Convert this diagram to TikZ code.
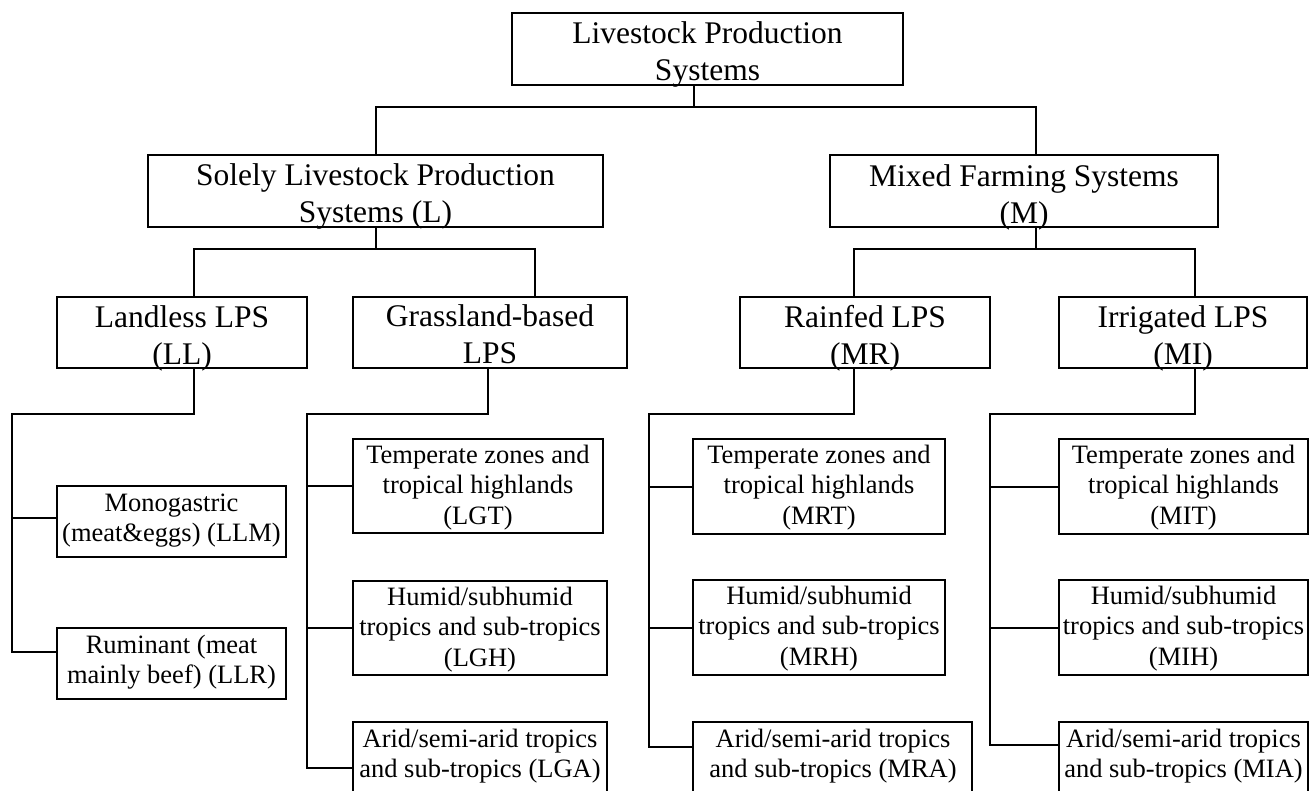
\documentclass[tikz,border=0pt]{standalone}
\usepackage{fontspec}
\setmainfont{Liberation Serif}
\usetikzlibrary{fit}

\tikzset{
  box/.style={draw, line width=1.8pt, inner sep=0pt, fill=none},
  wire/.style={line width=1.8pt, line cap=rect},
  bigtxt/.style={inner sep=0pt, anchor=north, align=center,
    font=\fontsize{31.5}{37.5}\selectfont},
  smalltxt/.style={inner sep=0pt, anchor=north, align=center,
    font=\fontsize{26.5}{30.5}\selectfont},
}
% first-line strut: the first baseline sits this far below the node's north
\newcommand\bigstrut{\rule{0pt}{26pt}}
\newcommand\smallstrut{\rule{0pt}{22pt}}

\begin{document}
\begin{tikzpicture}[x=1pt, y=-1pt]
\useasboundingbox (0,0) rectangle (1309,790);
\clip (0,0) rectangle (1309,790);

% ---------- level 1 ----------
\node[box, fit={(512,13) (903,85)}] (lps) {};
\node[bigtxt] (lps-t) at (707.5,17) {\bigstrut Livestock Production\\Systems};

% ---------- level 2 ----------
\node[box, fit={(148,155) (603,227)}] (sl) {};
\node[bigtxt] (sl-t) at (375.5,159) {\bigstrut Solely Livestock Production\\Systems (L)};
\node[box, fit={(830,155) (1218,227)}] (mf) {};
\node[bigtxt] (mf-t) at (1024,160) {\bigstrut Mixed Farming Systems\\(M)};

% ---------- level 3 ----------
\node[box, fit={(57,297) (307,368)}] (ll) {};
\node[bigtxt] (ll-t) at (182,301) {\bigstrut Landless LPS\\(LL)};
\node[box, fit={(353,297) (627,368)}] (gb) {};
\node[bigtxt] (gb-t) at (490,300) {\bigstrut Grassland-based\\LPS};
\node[box, fit={(740,297) (990,368)}] (mr) {};
\node[bigtxt] (mr-t) at (865,301) {\bigstrut Rainfed LPS\\(MR)};
\node[box, fit={(1059,297) (1307,368)}] (mi) {};
\node[bigtxt] (mi-t) at (1183,301) {\bigstrut Irrigated LPS\\(MI)};

% ---------- level 4: landless ----------
\node[box, fit={(57,486) (286,557)}] (llm) {};
\node[smalltxt] (llm-t) at (171.5,489) {\smallstrut Monogastric\\(meat\&eggs) (LLM)};
\node[box, fit={(57,628) (286,699)}] (llr) {};
\node[smalltxt] (llr-t) at (171.5,631) {\smallstrut Ruminant (meat\\mainly beef) (LLR)};

% ---------- level 4: grassland-based ----------
\node[box, fit={(353,439) (603,533)}] (lgt) {};
\node[smalltxt] (lgt-t) at (478,441) {\smallstrut Temperate zones and\\tropical highlands\\(LGT)};
\node[box, fit={(353,581) (607,675)}] (lgh) {};
\node[smalltxt] (lgh-t) at (480,583) {\smallstrut Humid/subhumid\\tropics and sub-tropics\\(LGH)};
\node[box, fit={(353,722) (607,820)}] (lga) {};
\node[smalltxt] (lga-t) at (480,725) {\smallstrut Arid/semi-arid tropics\\and sub-tropics (LGA)};

% ---------- level 4: rainfed ----------
\node[box, fit={(693,439) (945,534)}] (mrt) {};
\node[smalltxt] (mrt-t) at (819,441) {\smallstrut Temperate zones and\\tropical highlands\\(MRT)};
\node[box, fit={(693,580) (945,675)}] (mrh) {};
\node[smalltxt] (mrh-t) at (819,582) {\smallstrut Humid/subhumid\\tropics and sub-tropics\\(MRH)};
\node[box, fit={(693,722) (972,820)}] (mra) {};
\node[smalltxt] (mra-t) at (833,725) {\smallstrut Arid/semi-arid tropics\\and sub-tropics (MRA)};

% ---------- level 4: irrigated ----------
\node[box, fit={(1059,439) (1308,534)}] (mit) {};
\node[smalltxt] (mit-t) at (1183.5,441) {\smallstrut Temperate zones and\\tropical highlands\\(MIT)};
\node[box, fit={(1059,580) (1308,675)}] (mih) {};
\node[smalltxt] (mih-t) at (1183.5,582) {\smallstrut Humid/subhumid\\tropics and sub-tropics\\(MIH)};
\node[box, fit={(1059,722) (1308,820)}] (mia) {};
\node[smalltxt] (mia-t) at (1183.5,725) {\smallstrut Arid/semi-arid tropics\\and sub-tropics (MIA)};

% ---------- bus coordinates ----------
\coordinate (b0m) at (694,107);
\coordinate (b0l) at (376,107);
\coordinate (b0r) at (1036,107);
\coordinate (b1m) at (376,249);
\coordinate (b1l) at (194,249);
\coordinate (b1r) at (535,249);
\coordinate (b2m) at (1036,249);
\coordinate (b2l) at (854,249);
\coordinate (b2r) at (1195,249);

\coordinate (gll) at (12,414);
\coordinate (dll) at (194,414);
\coordinate (pllm) at (57,518);
\coordinate (pllr) at (57,652);

\coordinate (ggb) at (307,414);
\coordinate (dgb) at (488,414);
\coordinate (plgt) at (353,486);
\coordinate (plgh) at (353,628);
\coordinate (plga) at (353,768);

\coordinate (gmr) at (649,414);
\coordinate (dmr) at (854,414);
\coordinate (pmrt) at (693,487);
\coordinate (pmrh) at (693,628);
\coordinate (pmra) at (693,747);

\coordinate (gmi) at (990,414);
\coordinate (dmi) at (1195,414);
\coordinate (pmit) at (1059,487);
\coordinate (pmih) at (1059,628);
\coordinate (pmia) at (1059,745);

% ---------- connectors ----------
\draw[wire] (lps.south -| b0m) -- (b0m);
\draw[wire] (sl.north -| b0l) -- (b0l) -- (b0r) -- (mf.north -| b0r);

\draw[wire] (sl.south -| b1m) -- (b1m);
\draw[wire] (ll.north -| b1l) -- (b1l) -- (b1r) -- (gb.north -| b1r);
\draw[wire] (mf.south -| b2m) -- (b2m);
\draw[wire] (mr.north -| b2l) -- (b2l) -- (b2r) -- (mi.north -| b2r);

% landless branch
\draw[wire] (ll.south -| dll) -- (dll) -- (gll) -- (gll |- pllr) -- (pllr);
\draw[wire] (gll |- pllm) -- (pllm);

% grassland-based branch
\draw[wire] (gb.south -| dgb) -- (dgb) -- (ggb) -- (ggb |- plga) -- (plga);
\draw[wire] (ggb |- plgt) -- (plgt);
\draw[wire] (ggb |- plgh) -- (plgh);

% rainfed branch
\draw[wire] (mr.south -| dmr) -- (dmr) -- (gmr) -- (gmr |- pmra) -- (pmra);
\draw[wire] (gmr |- pmrt) -- (pmrt);
\draw[wire] (gmr |- pmrh) -- (pmrh);

% irrigated branch
\draw[wire] (mi.south -| dmi) -- (dmi) -- (gmi) -- (gmi |- pmia) -- (pmia);
\draw[wire] (gmi |- pmit) -- (pmit);
\draw[wire] (gmi |- pmih) -- (pmih);
\end{tikzpicture}
\end{document}
